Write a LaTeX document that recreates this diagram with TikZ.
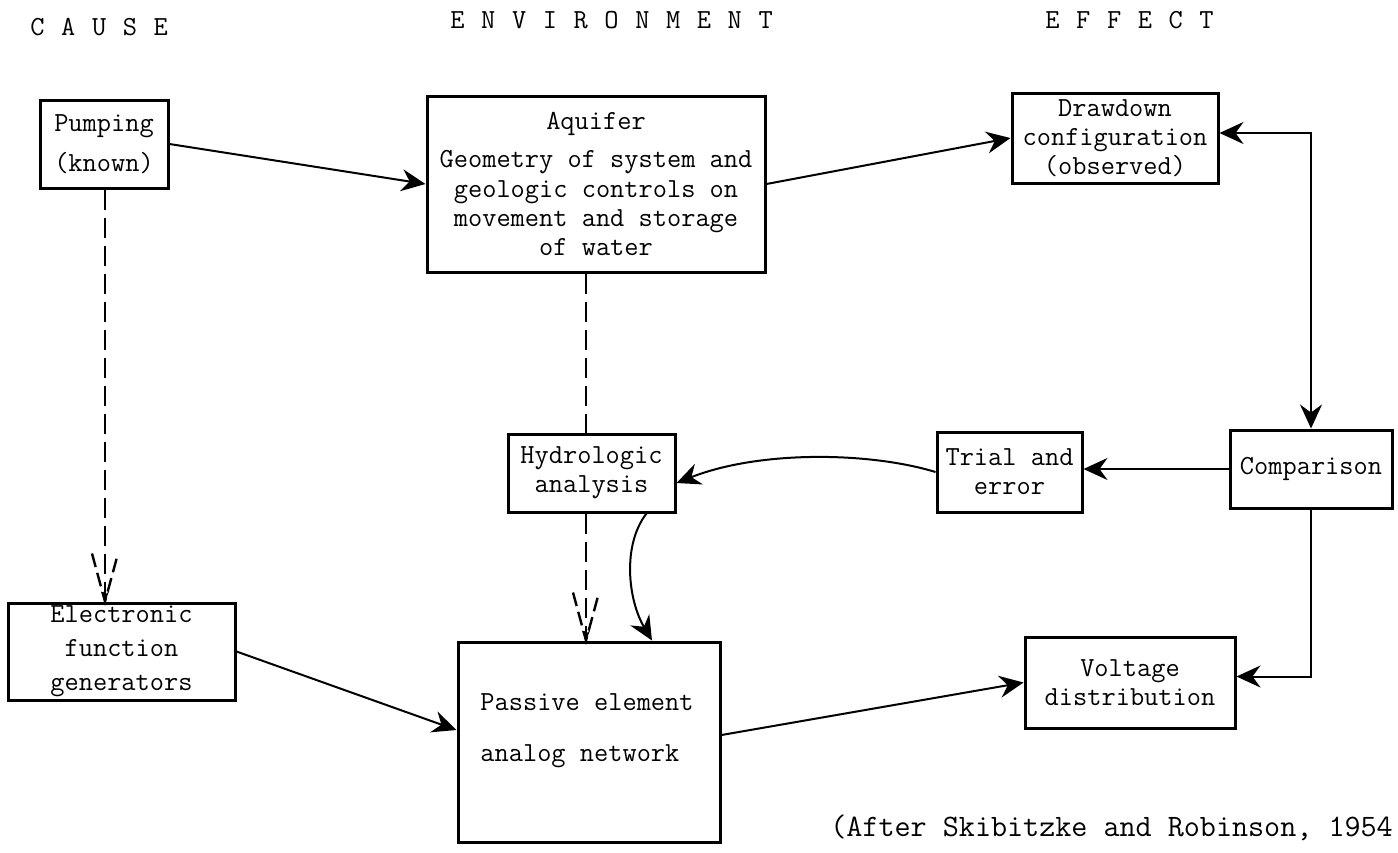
\documentclass[tikz,border=0pt]{standalone}
\usetikzlibrary{arrows.meta,calc}
\newcommand{\tfont}{\ttfamily\fontsize{13.8}{14.6}\selectfont}
\newcommand{\hs}{\hspace{8.3pt}}
\tikzset{
  arw/.tip={Stealth[length=12pt,width=11pt,inset=4pt]},
  smallarw/.tip={Stealth[length=5pt,width=4pt]}
}
\begin{document}
\begin{tikzpicture}[x=0.5pt,y=-0.5pt,
  box/.style={draw,line width=1.5pt,inner sep=0pt,align=center,font=\tfont},
  conn/.style={line width=1pt,-arw},
  dsh/.style={line width=1.2pt,dash pattern=on 10pt off 4pt},
  vdsh/.style={line width=1.2pt,dash pattern=on 7pt off 3pt}]
\useasboundingbox (0,0) rectangle (1398,852);

% headers
\node[font=\tfont,anchor=west,inner sep=0pt] (hcause) at (30,27) {C\hs A\hs U\hs S\hs E};
\node[font=\tfont,anchor=west,inner sep=0pt] (henv) at (450,20) {E\hs N\hs V\hs I\hs R\hs O\hs N\hs M\hs E\hs N\hs T};
\node[font=\tfont,anchor=west,inner sep=0pt] (heff) at (1045,20) {E\hs F\hs F\hs E\hs C\hs T};

% boxes
\node[box,minimum width=64pt,minimum height=44pt] (pump) at (104,144) {Pumping\\[5.5pt](known)};
\node[box,minimum width=169pt,minimum height=88pt] (aq) at (596,184) {Aquifer\\[4.5pt]Geometry of system and\\geologic controls on\\movement and storage\\of water};
\node[box,minimum width=103pt,minimum height=45pt] (ddown) at (1115,138) {Drawdown\\configuration\\(observed)};
\node[box,minimum width=81pt,minimum height=39pt] (comp) at (1311,469) {Comparison};
\node[box,minimum width=72.5pt,minimum height=40pt] (trial) at (1009.5,472) {Trial and\\error};
\node[box,minimum width=83.5pt,minimum height=39pt] (hydro) at (591.5,473) {Hydrologic\\analysis};
\node[box,minimum width=113.5pt,minimum height=48.5pt] (elec) at (121.5,651.5) {Electronic\\[2.5pt]function\\[2.5pt]generators};
\node[box,minimum width=131pt,minimum height=100pt] (pass) at (589,742) {};
\node[font=\tfont,align=left,inner sep=0pt] (passtxt) at (587,731) {Passive element\\[11pt]analog network};
\node[box,minimum width=105pt,minimum height=45.5pt] (volt) at (1130,682.5) {Voltage\\distribution};

% citation
\node[font=\ttfamily\fontsize{15.6}{16}\selectfont,anchor=west,inner sep=0pt] (cite) at (830,828) {(After Skibitzke and Robinson, 1954};

% solid connectors
\draw[conn] (pump.east) -- (aq.west);
\draw[conn] (aq.east) -- (ddown.west);
\draw[conn] (elec.east) -- ($(pass.west)+(0,-12)$);
\draw[conn] ($(pass.east)+(0,-7)$) -- (volt.west);
\draw[conn] (comp.south) |- ($(volt.east)+(0,-6)$);
\draw[line width=1pt,arw-arw] ($(ddown.east)+(0,-5)$) -| (comp.north);
\draw[conn] (comp.west) -- (comp.west -| trial.east);
\draw[conn] (trial.west) .. controls (870,452) and (760,450) .. ($(hydro.east)+(0,10)$);
\draw[conn] ($(hydro.south)+(55,0)$) .. controls (622,545) and (628,600) .. ($(pass.north)+(63,0)$);

% dashed connectors
\coordinate (dx) at (586,0);
\coordinate (px) at (105,0);
\draw[dsh] (aq.south -| dx) -- (hydro.north -| dx);
\draw[dsh,-smallarw] (hydro.south -| dx) -- (pass.north -| dx);
\draw[vdsh] ($(pass.north -| dx)+(-13,-48)$) -- (pass.north -| dx) -- ++(13,-48);
\draw[dsh,-smallarw] (pump.south -| px) -- (elec.north -| px);
\draw[vdsh] ($(elec.north -| px)+(-13,-48)$) -- (elec.north -| px) -- ++(13,-48);
\end{tikzpicture}
\end{document}
